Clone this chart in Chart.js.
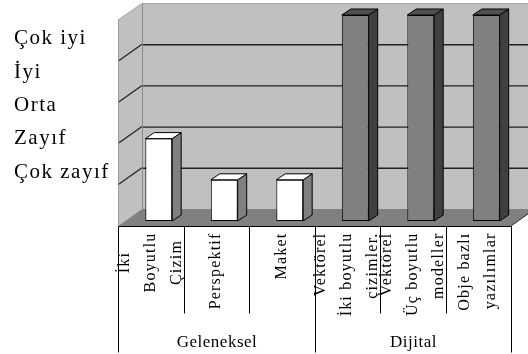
<!DOCTYPE html>
<html lang="tr">
<head>
<meta charset="utf-8">
<title>Çizim yöntemlerinin değerlendirilmesi</title>
<style>
  html, body { margin: 0; padding: 0; background: #fff; }
  canvas { display: block; }
</style>
<script src="https://cdn.jsdelivr.net/npm/chart.js@4/dist/chart.umd.min.js"></script>
</head>
<body>
<canvas id="chart" width="528" height="354"></canvas>
<script>
// Değerlendirme düzeyleri: 1 = Çok zayıf ... 5 = Çok iyi
const levels = ['Çok zayıf', 'Zayıf', 'Orta', 'İyi', 'Çok iyi'];

// Yöntemler (satırlara bölünmüş etiketler)
const categories = [
  ['İki', 'Boyutlu', 'Çizim'],
  ['Perspektif'],
  ['Maket'],
  ['Vektörel', 'İki boyutlu', 'çizimler.'],
  ['Vektörel', 'Üç boyutlu', 'modeller'],
  ['Obje bazlı', 'yazılımlar']
];

// Her yöntemin puanı
const scores = [2, 1, 1, 5, 5, 5];

// Gruplar ve her gruptaki yöntem sayısı
const groupNames = ['Geleneksel', 'Dijital'];
const groupSizes = [3, 3];

// Her yöntemin grup numarası
const groupOf = [];
groupSizes.forEach((n, g) => { for (let k = 0; k < n; k++) groupOf.push(g); });

// Renkler: grup başına ön, yan ve üst yüz
const FACE = ['#ffffff', '#808080'];
const SIDE = ['#808080', '#404040'];
const TOP = ['#ffffff', '#505050'];

// Eğik izdüşüm: sütun düzleminden ön kenara ve arka duvara kaymalar
const FRONT = { dx: -8, dy: 5 };
const BACK = { dx: 16, dy: -12 };
const BAR_DEPTH = { dx: 9, dy: -6 };

const SERIF = '"Liberation Serif", "Times New Roman", serif';

function poly(ctx, pts, fill, stroke, lw) {
  ctx.beginPath();
  ctx.moveTo(pts[0][0], pts[0][1]);
  for (let i = 1; i < pts.length; i++) ctx.lineTo(pts[i][0], pts[i][1]);
  ctx.closePath();
  if (fill) { ctx.fillStyle = fill; ctx.fill(); }
  if (stroke) { ctx.strokeStyle = stroke; ctx.lineWidth = lw || 1; ctx.stroke(); }
}

function line(ctx, x1, y1, x2, y2, color, lw) {
  ctx.beginPath();
  ctx.moveTo(x1, y1);
  ctx.lineTo(x2, y2);
  ctx.strokeStyle = color;
  ctx.lineWidth = lw || 1;
  ctx.stroke();
}

// Duvarlar, taban ve kılavuz çizgileri
const walls = {
  id: 'walls',
  beforeDraw(chart) {
    // eksen etiketleri için harf aralığı
    chart.ctx.letterSpacing = '1.5px';
  },
  beforeDatasetsDraw(chart) {
    const { ctx, chartArea: a, scales: { x, y } } = chart;
    const y0 = y.getPixelForValue(0);
    const yTop = y.getPixelForValue(y.max);
    const L = a.left, R = a.right;
    const farRight = chart.width + 20;
    ctx.save();
    ctx.letterSpacing = '0px';

    // arka duvar
    ctx.fillStyle = '#c0c0c0';
    ctx.fillRect(L + BACK.dx, yTop + BACK.dy, farRight - (L + BACK.dx), y0 - yTop);

    // sol duvar
    poly(ctx, [
      [L + FRONT.dx, y0 + FRONT.dy],
      [L + FRONT.dx, yTop + FRONT.dy],
      [L + BACK.dx, yTop + BACK.dy],
      [L + BACK.dx, y0 + BACK.dy]
    ], '#c0c0c0');

    // taban
    poly(ctx, [
      [L + FRONT.dx, y0 + FRONT.dy],
      [L + BACK.dx, y0 + BACK.dy],
      [R + BACK.dx, y0 + BACK.dy],
      [R + FRONT.dx, y0 + FRONT.dy]
    ], '#808080');

    // kılavuz çizgileri
    for (let v = 1; v < y.max; v++) {
      const py = y.getPixelForValue(v);
      line(ctx, L + BACK.dx, py + BACK.dy + 0.5, farRight, py + BACK.dy + 0.5, '#202020', 1.4);
      line(ctx, L + FRONT.dx, py + FRONT.dy, L + BACK.dx, py + BACK.dy, '#202020', 1.2);
    }

    // duvar kenarları
    line(ctx, L + BACK.dx + 0.5, yTop + BACK.dy, L + BACK.dx + 0.5, y0 + BACK.dy, '#8a8a8a', 1);
    line(ctx, L + FRONT.dx + 0.5, yTop + FRONT.dy, L + FRONT.dx + 0.5, y0 + FRONT.dy, '#9a9a9a', 1);
    ctx.beginPath();
    ctx.moveTo(L + FRONT.dx, yTop + FRONT.dy);
    ctx.lineTo(L + BACK.dx, yTop + BACK.dy + 0.5);
    ctx.lineTo(farRight, yTop + BACK.dy + 0.5);
    ctx.strokeStyle = '#a8a8a8';
    ctx.lineWidth = 1;
    ctx.stroke();

    // tabanın sağ kenarı
    line(ctx, R + FRONT.dx, y0 + FRONT.dy, R + BACK.dx, y0 + BACK.dy, '#303030', 1);
    ctx.restore();
  },

  // sütunların yan ve üst yüzleri
  afterDatasetsDraw(chart) {
    const { ctx } = chart;
    const meta = chart.getDatasetMeta(0);
    ctx.save();
    meta.data.forEach((bar, i) => {
      const p = bar.getProps(['x', 'y', 'base', 'width'], true);
      const l = p.x - p.width / 2, r = p.x + p.width / 2;
      const d = BAR_DEPTH;
      const g = groupOf[i];
      poly(ctx, [
        [r, p.base], [r, p.y], [r + d.dx, p.y + d.dy], [r + d.dx, p.base + d.dy]
      ], SIDE[g], '#000', 1);
      poly(ctx, [
        [l, p.y], [l + d.dx, p.y + d.dy], [r + d.dx, p.y + d.dy], [r, p.y]
      ], TOP[g], '#000', 1);
    });
    ctx.restore();
  },

  // alttaki yöntem ve grup tablosu
  afterDraw(chart) {
    const { ctx, scales: { x, y } } = chart;
    const y0 = y.getPixelForValue(0);
    const fy = Math.round(y0 + FRONT.dy) + 0.5;
    const n = categories.length;
    const step = x.getPixelForValue(1) - x.getPixelForValue(0);
    const edge = (i) => Math.round(x.getPixelForValue(0) - step / 2 + i * step + FRONT.dx) + 0.5;

    ctx.save();
    ctx.letterSpacing = '0px';
    line(ctx, edge(0), fy, edge(n), fy, '#000', 1);

    const groupEdges = [0];
    groupSizes.forEach((s) => groupEdges.push(groupEdges[groupEdges.length - 1] + s));
    for (let i = 0; i <= n; i++) {
      const bottom = groupEdges.includes(i) ? fy + 126 : fy + 87;
      line(ctx, edge(i), fy, edge(i), bottom, '#000', 1);
    }

    // yöntem adları (dikey)
    ctx.fillStyle = '#000';
    ctx.font = '16px ' + SERIF;
    ctx.letterSpacing = '1.2px';
    ctx.textBaseline = 'middle';
    categories.forEach((lines, i) => {
      const cx = x.getPixelForValue(i) + FRONT.dx;
      lines.forEach((t, j) => {
        const lx = cx + (j - (lines.length - 1) / 2) * 26;
        ctx.save();
        if (i === 0) {
          ctx.translate(lx, fy + 36);
          ctx.rotate(-Math.PI / 2);
          ctx.textAlign = 'center';
        } else {
          ctx.translate(lx, fy + 6);
          ctx.rotate(-Math.PI / 2);
          ctx.textAlign = 'right';
        }
        ctx.fillText(t, 0, 0);
        ctx.restore();
      });
    });

    // grup adları
    ctx.font = '17px ' + SERIF;
    ctx.letterSpacing = '0.5px';
    ctx.textAlign = 'center';
    ctx.textBaseline = 'alphabetic';
    groupNames.forEach((name, g) => {
      const cx = (edge(groupEdges[g]) + edge(groupEdges[g + 1])) / 2;
      ctx.fillText(name, cx, fy + 120);
    });
    ctx.restore();
  }
};

new Chart(document.getElementById('chart'), {
  type: 'bar',
  data: {
    labels: categories.map((c) => c.join(' ')),
    datasets: [{
      data: scores,
      yAxisID: 'y',
      backgroundColor: groupOf.map((g) => FACE[g]),
      borderColor: '#000',
      borderWidth: 1,
      borderSkipped: false,
      barPercentage: 0.41,
      categoryPercentage: 1,
      clip: false
    }]
  },
  options: {
    responsive: false,
    animation: false,
    devicePixelRatio: 1,
    layout: { padding: { left: 14, top: 15, right: 9, bottom: 133 } },
    plugins: {
      legend: { display: false },
      tooltip: { enabled: false },
      title: { display: false }
    },
    scales: {
      x: { type: 'category', display: false, offset: true },
      y: { type: 'linear', display: false, min: 0, max: 5 },
      levels: {
        type: 'linear',
        position: 'left',
        min: -0.47,
        max: 5.71,
        grid: { display: false },
        border: { display: false },
        afterBuildTicks: (scale) => {
          scale.ticks = levels.map((_, i) => ({ value: i + 1 }));
        },
        afterFit: (scale) => { scale.width = 112; },
        ticks: {
          autoSkip: false,
          crossAlign: 'far',
          padding: 0,
          color: '#000',
          font: { family: SERIF, size: 21 },
          callback: (v) => levels[Math.round(v) - 1]
        }
      }
    }
  },
  plugins: [walls]
});
</script>
</body>
</html>
